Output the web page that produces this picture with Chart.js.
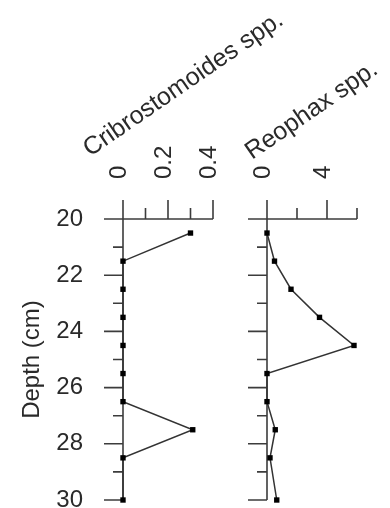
<!DOCTYPE html>
<html>
<head>
<meta charset="utf-8">
<script src="https://cdn.jsdelivr.net/npm/chart.js"></script>
<style>
  html, body { margin: 0; padding: 0; background: #fff; overflow: hidden; }
  #wrap { position: relative; width: 390px; height: 508px; }
  #wrap canvas { position: absolute; left: 0; top: 0; }
</style>
</head>
<body>
<div id="wrap">
  <canvas id="crib" width="390" height="508"></canvas>
  <canvas id="reo" width="390" height="508"></canvas>
</div>
<script>
// depths (cm) of the samples
const depths = [20.5, 21.5, 22.5, 23.5, 24.5, 25.5, 26.5, 27.5, 28.5, 30];
const cribValues = [0.3, 0, 0, 0, 0, 0, 0, 0.31, 0, 0];
const reoValues = [0, 0.5, 1.6, 3.5, 5.8, 0, 0, 0.55, 0.2, 0.65];

const depthLabels = [20, 22, 24, 26, 28, 30];
const cribLabels = [0, 0.2, 0.4];
const reoLabels = [0, 4];

const FONT = '"Liberation Sans", Arial, sans-serif';
const textColor = '#2a2a2a';
const axisColor = '#3c3c3c';

function toPoints(values) {
  return values.map((v, i) => ({ x: v, y: depths[i] }));
}

function hasLabel(list, v) {
  return list.some(l => Math.abs(l - v) < 1e-6);
}

// axis lines, tick marks and the slanted title
function stratAxes(cfg) {
  return {
    id: 'stratAxes',
    beforeDatasetsDraw(chart) {
      const ctx = chart.ctx;
      const xs = chart.scales.x;
      const ys = chart.scales.y;
      const x0 = xs.getPixelForValue(xs.min);
      const x1 = xs.getPixelForValue(xs.max);
      const y0 = ys.getPixelForValue(ys.min);
      const y1 = ys.getPixelForValue(ys.max);
      ctx.save();
      ctx.strokeStyle = axisColor;
      ctx.lineWidth = 1.6;
      ctx.beginPath();
      ctx.moveTo(x0, y0); ctx.lineTo(x1, y0);
      ctx.moveTo(x0, y0); ctx.lineTo(x0, y1);
      xs.ticks.forEach(t => {
        const px = xs.getPixelForValue(t.value);
        const len = hasLabel(cfg.xLabels, t.value) ? 19 : 11;
        ctx.moveTo(px, y0); ctx.lineTo(px, y0 - len);
      });
      ys.ticks.forEach(t => {
        const py = ys.getPixelForValue(t.value);
        const len = hasLabel(depthLabels, t.value) ? 19 : 10;
        ctx.moveTo(x0, py); ctx.lineTo(x0 - len, py);
      });
      ctx.stroke();

      ctx.fillStyle = textColor;
      ctx.font = '25px ' + FONT;
      ctx.textAlign = 'left';
      ctx.textBaseline = 'alphabetic';
      ctx.translate(x0 + cfg.titleDx, cfg.titleY);
      ctx.rotate(-34.5 * Math.PI / 180);
      ctx.fillText(cfg.title, 0, 0);
      ctx.restore();
    }
  };
}

function makePanel(id, values, xMax, xStep, xLabels, leftWidth, rightPad, title, titleDx, titleY, showDepth) {
  return new Chart(document.getElementById(id), {
    type: 'scatter',
    data: {
      datasets: [{
        data: toPoints(values),
        showLine: true,
        borderColor: '#333',
        borderWidth: 1.5,
        pointStyle: 'rect',
        pointRadius: 3.8,
        pointHoverRadius: 3.8,
        pointBackgroundColor: '#000',
        pointBorderColor: '#000',
        pointBorderWidth: 0,
        clip: false
      }]
    },
    options: {
      responsive: false,
      animation: false,
      events: [],
      layout: { padding: { left: 0, right: rightPad, top: 0, bottom: 8 } },
      plugins: { legend: { display: false }, tooltip: { enabled: false } },
      scales: {
        x: {
          type: 'linear',
          position: 'top',
          min: 0,
          max: xMax,
          grid: { display: false, drawTicks: false },
          border: { display: false },
          ticks: {
            stepSize: xStep,
            autoSkip: false,
            minRotation: 90,
            maxRotation: 90,
            padding: 40,
            labelOffset: 25,
            color: textColor,
            font: { family: FONT, size: 24 },
            callback: v => hasLabel(xLabels, v) ? String(Math.round(v * 10) / 10) : ''
          },
          afterFit: s => { s.height = 219; s.paddingLeft = 0; s.paddingRight = 0; }
        },
        y: {
          type: 'linear',
          reverse: true,
          min: 20,
          max: 30,
          grid: { display: false, drawTicks: false },
          border: { display: false },
          title: {
            display: showDepth,
            text: 'Depth (cm)',
            color: textColor,
            font: { family: FONT, size: 24 },
            padding: { top: 18, bottom: 0 }
          },
          ticks: {
            display: showDepth,
            stepSize: 1,
            autoSkip: false,
            padding: 40,
            color: textColor,
            font: { family: FONT, size: 24 },
            callback: v => hasLabel(depthLabels, v) ? String(v) : ''
          },
          afterFit: s => { s.width = leftWidth; s.paddingTop = 0; s.paddingBottom = 0; }
        }
      }
    },
    plugins: [stratAxes({ xLabels: xLabels, title: title, titleDx: titleDx, titleY: titleY })]
  });
}

makePanel('crib', cribValues, 0.4, 0.1, cribLabels, 123, 390 - 213, 'Cribrostomoides spp.', -33, 157, true);
makePanel('reo', reoValues, 6, 2, reoLabels, 267, 390 - 357, 'Reophax spp.', -15, 160, false);
</script>
</body>
</html>
